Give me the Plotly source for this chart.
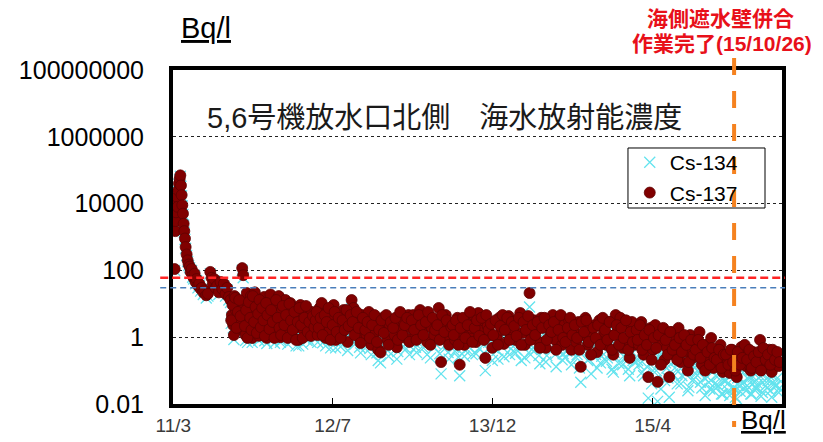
import plotly.graph_objects as go

# ---- sampling data (Bq/l) -------------------------------------------------
# spring / summer 2011
dates_2011a = [
    "2011-03-19", "2011-03-21", "2011-03-22", "2011-03-23", "2011-03-24", "2011-03-26",
    "2011-03-28", "2011-03-30", "2011-04-01", "2011-04-03", "2011-04-05", "2011-04-07",
    "2011-04-09", "2011-04-11", "2011-04-13", "2011-04-15", "2011-04-17", "2011-04-19",
    "2011-04-21", "2011-04-24", "2011-04-27", "2011-04-30",
    "2011-05-03", "2011-05-06", "2011-05-09", "2011-05-12", "2011-05-15", "2011-05-18",
    "2011-05-21", "2011-05-24", "2011-05-28", "2011-06-01", "2011-06-05", "2011-06-09",
    "2011-06-13", "2011-06-17", "2011-06-22", "2011-06-27", "2011-07-04", "2011-07-08",
    "2011-07-12", "2011-07-16", "2011-07-20", "2011-07-25", "2011-07-30", "2011-08-04",
    "2011-08-09", "2011-08-14", "2011-08-19", "2011-08-24", "2011-08-29",
]
cs134_2011a = [
    100, 1400, 2800, 5000, 8500, 15000, 7500, 23000, 38000, 52000, 66000, 33000,
    17000, 8500, 4700, 2300, 1400, 850, 460, 280, 185, 140,
    120, 80, 100, 62, 55, 72, 40, 50, 30, 36, 24, 27, 19, 22, 15, 17, 80, 52,
    35, 48, 26, 30, 19, 40, 24, 34, 17, 26, 13,
]
cs137_2011a = [
    110, 1500, 3000, 5500, 9000, 16000, 8000, 25000, 40000, 55000, 70000, 35000,
    18000, 9000, 5000, 2500, 1500, 900, 500, 300, 200, 150,
    130, 90, 110, 70, 60, 80, 45, 55, 35, 40, 28, 30, 22, 25, 18, 20, 90, 60,
    40, 55, 30, 35, 22, 45, 28, 40, 20, 30, 16,
]

# autumn 2011 - spring 2012
dates_2011b = [
    "2011-09-03", "2011-09-07", "2011-09-11", "2011-09-15", "2011-09-19", "2011-09-23", "2011-09-27",
    "2011-10-01", "2011-10-05", "2011-10-08", "2011-10-11", "2011-10-14", "2011-10-18", "2011-10-22",
    "2011-10-26", "2011-10-30",
    "2011-11-03", "2011-11-07", "2011-11-11", "2011-11-15", "2011-11-19", "2011-11-23", "2011-11-27",
    "2011-12-01", "2011-12-05", "2011-12-09", "2011-12-13", "2011-12-17", "2011-12-21", "2011-12-26",
    "2012-01-01", "2012-01-06", "2012-01-11", "2012-01-16", "2012-01-21", "2012-01-26", "2012-01-31",
    "2012-02-05", "2012-02-10", "2012-02-15", "2012-02-20", "2012-02-25",
    "2012-03-01", "2012-03-06", "2012-03-11", "2012-03-16", "2012-03-21", "2012-03-26", "2012-03-31",
    "2012-04-05", "2012-04-10", "2012-04-15", "2012-04-20", "2012-04-25", "2012-04-30",
    "2012-05-05", "2012-05-10",
]
cs134_2011b = [
    11, 3.9, 1.9, 14, 5.5, 1.3, 3.1,
    7.6, 2.3, 100, 60, 11, 0.8, 17, 3.7, 1.5,
    14, 0.7, 5.3, 18, 1.8, 7.4, 0.8,
    10, 3.0, 1.0, 13, 4.5, 0.65, 2.2,
    15, 3.5, 0.9, 7.0, 1.7, 13, 0.7,
    4.9, 2.4, 9.8, 1.2, 4.2,
    7.8, 0.8, 2.8, 5.5, 1.4, 0.55, 6.7,
    3.3, 1.2, 4.7, 0.8, 2.3, 1.3,
    4.0, 0.95,
]
cs137_2011b = [
    13, 4.6, 2.3, 17, 6.5, 1.65, 3.8,
    9.2, 2.85, 117, 72, 13, 1.16, 21, 4.6, 1.9,
    17, 0.95, 6.5, 22, 2.3, 9.2, 1.1,
    13, 3.8, 1.4, 16, 5.7, 0.95, 2.85,
    19, 4.6, 1.25, 9.2, 2.3, 17, 1.0,
    6.5, 3.2, 13, 1.65, 5.7,
    10.5, 1.1, 3.8, 7.5, 2.0, 0.83, 9.2,
    4.6, 1.65, 6.5, 1.15, 3.2, 1.9,
    5.7, 1.35,
]
# additional samples in the same period
dates_2011b_extra = [
    "2011-09-05", "2011-09-09", "2011-09-13", "2011-09-17", "2011-09-21", "2011-09-25", "2011-09-29",
    "2011-10-03", "2011-10-16", "2011-10-20", "2011-10-24", "2011-10-28",
    "2011-11-01", "2011-11-05", "2011-11-09", "2011-11-13", "2011-11-17", "2011-11-21", "2011-11-25",
    "2011-11-29",
    "2011-12-03", "2011-12-07", "2011-12-11", "2011-12-15", "2011-12-19", "2011-12-23", "2011-12-29",
    "2012-01-03", "2012-01-08", "2012-01-13", "2012-01-18", "2012-01-23", "2012-01-28",
    "2012-02-02", "2012-02-07", "2012-02-12", "2012-02-17", "2012-02-22", "2012-02-27",
    "2012-03-03", "2012-03-08", "2012-03-13", "2012-03-18", "2012-03-23", "2012-03-28",
    "2012-04-02", "2012-04-07", "2012-04-12", "2012-04-17", "2012-04-22", "2012-04-27",
    "2012-05-02", "2012-05-08", "2012-05-12",
]
cs134_2011b_extra = [
    2.6, 7.5, 0.85, 12, 1.5, 4.6, 10,
    3.4, 1.7, 5.0, 0.7, 8.8,
    2.9, 1.25, 13, 2.1, 6.0, 1.0, 3.7, 9.6,
    1.5, 5.5, 2.3, 0.78, 7.8, 3.3, 1.25,
    4.6, 2.0, 0.66, 9.2, 2.7, 1.3,
    0.8, 6.0, 1.6, 3.2, 0.62, 7.0,
    2.2, 1.1, 3.9, 0.55, 1.9, 5.0,
    1.5, 0.62, 2.5, 5.6, 0.92, 1.85,
    0.7, 2.8, 1.3,
]
cs137_2011b_extra = [
    3.2, 9.2, 1.16, 15, 1.9, 5.7, 13,
    4.3, 2.16, 6.5, 0.95, 11.3,
    3.8, 1.65, 17, 2.85, 8.0, 1.34, 5.0, 13,
    2.0, 7.5, 3.2, 1.09, 10.6, 4.6, 1.76,
    6.5, 2.85, 0.95, 13, 3.8, 1.9,
    1.16, 8.6, 2.3, 4.6, 0.95, 10,
    3.2, 1.65, 5.7, 0.83, 2.85, 7.5,
    2.3, 0.95, 3.8, 8.6, 1.43, 2.85,
    1.09, 4.3, 2.0,
]

# mid 2012 - mid 2013
dates_2012 = [
    "2012-05-16", "2012-05-22", "2012-05-28",
    "2012-06-03", "2012-06-09", "2012-06-15", "2012-06-21", "2012-06-27",
    "2012-07-03", "2012-07-09", "2012-07-15", "2012-07-21", "2012-07-27",
    "2012-08-02", "2012-08-08", "2012-08-14", "2012-08-20", "2012-08-26",
    "2012-09-01", "2012-09-07", "2012-09-13", "2012-09-19", "2012-09-25",
    "2012-10-02", "2012-10-09", "2012-10-16", "2012-10-23", "2012-10-30",
    "2012-11-06", "2012-11-13", "2012-11-20", "2012-11-27",
    "2012-12-04", "2012-12-11", "2012-12-18", "2012-12-25",
    "2013-01-08", "2013-01-15", "2013-01-22", "2013-01-29",
    "2013-02-05", "2013-02-12", "2013-02-19", "2013-02-26",
    "2013-03-05", "2013-03-12", "2013-03-19", "2013-03-26",
    "2013-04-02", "2013-04-09", "2013-04-16", "2013-04-23", "2013-04-30",
    "2013-05-07", "2013-05-14", "2013-05-21", "2013-05-28",
    "2013-06-04", "2013-06-11", "2013-06-18", "2013-06-25",
]
cs134_2012 = [
    1.9, 0.7, 4.5,
    6.4, 1.4, 0.55, 3.4, 1.0,
    2.2, 5.4, 0.48, 1.6, 2.6,
    0.75, 3.6, 1.1, 0.4, 2.1,
    7.0, 4.0, 0.9, 1.7, 0.5,
    2.4, 1.2, 0.6, 2.9, 0.3,
    1.4, 0.7, 0.2, 0.17,
    1.8, 0.9, 0.4, 1.1,
    0.55, 0.22, 1.5, 0.8,
    1.3, 0.45, 2.1, 0.85,
    2.1, 0.5, 1.0, 2.9,
    0.75, 1.4, 0.3, 1.7, 0.85,
    0.5, 1.2, 3.3, 0.08,
    1.0, 2.0, 0.35, 0.7,
]
cs137_2012 = [
    3.2, 1.16, 7.5,
    10.6, 2.3, 0.95, 5.7, 1.65,
    3.8, 9.2, 0.83, 2.85, 4.6,
    1.34, 6.5, 2.0, 0.72, 3.8,
    13, 7.5, 1.65, 3.2, 0.95,
    4.6, 2.3, 1.16, 5.7, 0.59,
    2.85, 1.43, 0.42, 0.35,
    3.8, 1.9, 0.83, 2.3,
    1.16, 0.5, 3.2, 1.65,
    2.85, 0.95, 4.6, 1.9,
    4.6, 1.16, 2.3, 6.5,
    1.65, 3.2, 0.72, 3.8, 1.9,
    1.16, 2.85, 7.5, 0.18,
    2.3, 4.6, 0.83, 1.65,
]
dates_2012_extra = [
    "2012-05-19", "2012-05-25", "2012-05-31",
    "2012-06-06", "2012-06-12", "2012-06-18", "2012-06-24", "2012-06-30",
    "2012-07-06", "2012-07-12", "2012-07-18", "2012-07-24", "2012-07-30",
    "2012-08-05", "2012-08-11", "2012-08-17", "2012-08-23", "2012-08-29",
    "2012-09-04", "2012-09-10", "2012-09-16", "2012-09-22", "2012-09-28",
    "2012-10-05", "2012-10-12", "2012-10-19", "2012-10-26",
    "2012-11-02", "2012-11-09", "2012-11-16", "2012-11-23", "2012-11-30",
    "2012-12-07", "2012-12-14", "2012-12-21", "2012-12-28",
    "2013-01-04", "2013-01-11", "2013-01-18", "2013-01-25",
    "2013-02-01", "2013-02-08", "2013-02-15", "2013-02-22",
    "2013-03-01", "2013-03-08", "2013-03-15", "2013-03-22", "2013-03-29",
    "2013-04-05", "2013-04-12", "2013-04-19", "2013-04-26",
    "2013-05-03", "2013-05-10", "2013-05-17", "2013-05-24", "2013-05-31",
    "2013-06-07", "2013-06-14", "2013-06-21", "2013-06-28",
]
cs134_2012_extra = [
    3.4, 1.1, 2.2,
    0.68, 2.7, 1.65, 4.4, 0.48,
    1.3, 3.2, 0.8, 2.1, 0.52,
    1.75, 0.9, 3.5, 1.15, 2.4,
    1.5, 0.6, 3.0, 1.0, 0.34,
    1.9, 0.82, 1.4, 0.46,
    1.1, 2.2, 0.34, 0.78, 1.5,
    0.62, 2.1, 0.27, 1.3,
    0.86, 1.7, 0.37, 2.5,
    0.5, 1.0, 1.65, 0.3,
    1.35, 0.7, 0.35, 1.9, 0.95,
    0.48, 1.15, 2.3, 0.24,
    1.5, 0.65, 0.9, 0.32, 1.8,
    0.55, 1.25, 0.22, 0.78,
]
cs137_2012_extra = [
    5.7, 1.9, 3.8,
    1.16, 4.6, 2.85, 7.5, 0.83,
    2.3, 5.7, 1.43, 3.8, 0.95,
    3.2, 1.65, 6.5, 2.16, 4.6,
    2.85, 1.16, 5.7, 1.9, 0.67,
    3.8, 1.65, 2.85, 0.95,
    2.3, 4.6, 0.72, 1.65, 3.2,
    1.34, 4.6, 0.59, 2.85,
    1.9, 3.8, 0.83, 5.7,
    1.16, 2.3, 3.8, 0.72,
    3.2, 1.65, 0.83, 4.6, 2.3,
    1.16, 2.85, 5.7, 0.59,
    3.8, 1.65, 2.3, 0.83, 4.6,
    1.43, 3.2, 0.59, 2.0,
]

# mid 2013 - end of 2014
dates_2013 = [
    "2013-07-02", "2013-07-09", "2013-07-16", "2013-07-23", "2013-07-30",
    "2013-08-06", "2013-08-13", "2013-08-20", "2013-08-27",
    "2013-09-03", "2013-09-10", "2013-09-17", "2013-09-24",
    "2013-10-01", "2013-10-08", "2013-10-15", "2013-10-22", "2013-10-29",
    "2013-11-05", "2013-11-12", "2013-11-19", "2013-11-26",
    "2013-12-03", "2013-12-10", "2013-12-17", "2013-12-24", "2013-12-31",
    "2014-01-07", "2014-01-14", "2014-01-21", "2014-01-28",
    "2014-02-04", "2014-02-11", "2014-02-18", "2014-02-25",
    "2014-03-04", "2014-03-11", "2014-03-18", "2014-03-25",
    "2014-04-01", "2014-04-08", "2014-04-15", "2014-04-22", "2014-04-29",
    "2014-05-06", "2014-05-13", "2014-05-20", "2014-05-27",
    "2014-06-03", "2014-06-10", "2014-06-17", "2014-06-24",
    "2014-07-01", "2014-07-08", "2014-07-15", "2014-07-22", "2014-07-29",
    "2014-08-05", "2014-08-12", "2014-08-19", "2014-08-26",
    "2014-09-02", "2014-09-09", "2014-09-16", "2014-09-23", "2014-09-30",
    "2014-10-07", "2014-10-14", "2014-10-21", "2014-10-28",
    "2014-11-04", "2014-11-11", "2014-11-18", "2014-11-25",
    "2014-12-02", "2014-12-09", "2014-12-16", "2014-12-23", "2014-12-30",
]
cs134_2013 = [
    1.1, 0.38, 1.8, 0.07, 0.65,
    0.27, 1.3, 0.5, 0.85,
    2.0, 0.32, 2.3, 0.72,
    1.4, 0.1, 0.95, 0.5, 0.2,
    1.2, 0.4, 1.6, 0.7,
    0.26, 0.95, 1.8, 0.45, 0.8,
    0.33, 1.3, 2.1, 0.55,
    0.24, 1.0, 8.0, 0.43,
    1.25, 0.62, 0.28, 1.45,
    0.75, 0.18, 1.05, 0.43, 1.7,
    0.3, 0.68, 1.35, 0.21,
    0.8, 0.38, 1.1, 0.15,
    0.56, 0.25, 0.95, 0.045, 0.4,
    1.25, 0.2, 0.62, 0.31,
    0.74, 0.12, 1.0, 0.27, 0.46,
    0.19, 0.9, 0.34, 0.09,
    1.4, 0.5, 1.15, 0.15,
    0.65, 0.25, 0.07, 0.85, 0.18,
]
cs137_2013 = [
    2.3, 0.83, 3.8, 0.15, 1.43,
    0.59, 2.85, 1.09, 1.9,
    4.6, 0.72, 5.3, 1.65,
    3.2, 0.24, 2.16, 1.16, 0.48,
    2.85, 0.95, 3.8, 1.65,
    0.63, 2.3, 4.3, 1.09, 1.9,
    0.83, 3.2, 5.3, 1.34,
    0.59, 2.5, 21, 1.09,
    3.2, 1.65, 0.72, 3.8,
    2.0, 0.48, 2.85, 1.16, 4.6,
    0.83, 1.9, 3.8, 0.59,
    2.3, 1.09, 3.2, 0.42,
    1.65, 0.72, 2.85, 0.13, 1.16,
    3.8, 0.59, 1.9, 0.95,
    2.3, 0.36, 3.2, 0.83, 1.43,
    0.59, 2.85, 1.09, 0.3,
    4.6, 1.65, 3.8, 0.48,
    2.16, 0.83, 0.24, 2.85, 0.59,
]
dates_2013_extra = [
    "2013-07-05", "2013-07-12", "2013-07-19", "2013-07-26",
    "2013-08-02", "2013-08-09", "2013-08-16", "2013-08-23", "2013-08-30",
    "2013-09-06", "2013-09-13", "2013-09-20", "2013-09-27",
    "2013-10-04", "2013-10-11", "2013-10-18", "2013-10-25",
    "2013-11-01", "2013-11-08", "2013-11-15", "2013-11-22", "2013-11-29",
    "2013-12-06", "2013-12-13", "2013-12-20", "2013-12-27",
    "2014-01-03", "2014-01-10", "2014-01-17", "2014-01-24", "2014-01-31",
    "2014-02-07", "2014-02-14", "2014-02-21", "2014-02-28",
    "2014-03-07", "2014-03-14", "2014-03-21", "2014-03-28",
    "2014-04-04", "2014-04-11", "2014-04-18", "2014-04-25",
    "2014-05-02", "2014-05-09", "2014-05-16", "2014-05-23", "2014-05-30",
    "2014-06-06", "2014-06-13", "2014-06-20", "2014-06-27",
    "2014-07-04", "2014-07-11", "2014-07-18", "2014-07-25",
    "2014-08-01", "2014-08-08", "2014-08-15", "2014-08-22", "2014-08-29",
    "2014-09-05", "2014-09-12", "2014-09-19", "2014-09-26",
    "2014-10-03", "2014-10-10", "2014-10-17", "2014-10-24", "2014-10-31",
    "2014-11-07", "2014-11-14", "2014-11-21", "2014-11-28",
    "2014-12-05", "2014-12-12", "2014-12-19", "2014-12-26",
]
cs134_2013_extra = [
    0.5, 1.5, 0.25, 0.85,
    1.7, 0.4, 1.0, 2.5, 0.3,
    0.8, 1.4, 0.45, 1.6,
    0.33, 2.0, 0.7, 1.05,
    0.48, 1.3, 0.22, 0.9, 1.9,
    0.65, 1.55, 0.3, 1.15,
    0.85, 0.42, 1.5, 0.2, 1.1,
    0.62, 1.65, 0.3, 0.85,
    0.42, 1.05, 0.16, 0.7,
    1.35, 0.28, 0.8, 0.5,
    1.0, 0.13, 0.56, 1.6, 0.32,
    0.24, 0.64, 1.3, 0.38,
    0.75, 0.3, 0.12, 0.95,
    0.46, 1.05, 0.22, 0.08, 0.6,
    0.3, 0.72, 0.17, 1.2,
    0.5, 0.24, 0.88, 0.11, 0.35,
    0.68, 0.16, 0.55, 0.27,
    0.92, 0.11, 0.4, 0.2,
]
cs137_2013_extra = [
    1.16, 3.2, 0.59, 1.9,
    3.8, 0.95, 2.3, 5.7, 0.72,
    1.9, 3.2, 1.09, 3.8,
    0.83, 4.6, 1.65, 2.5,
    1.16, 3.2, 0.59, 2.16, 4.6,
    1.65, 3.8, 0.83, 2.85,
    2.16, 1.09, 3.8, 0.59, 2.85,
    1.65, 4.3, 0.83, 2.3,
    1.16, 2.85, 0.48, 1.9,
    3.8, 0.83, 2.3, 1.43,
    2.85, 0.42, 1.65, 4.6, 0.95,
    0.72, 1.9, 3.8, 1.16,
    2.3, 0.95, 0.42, 2.85,
    1.43, 3.2, 0.72, 0.3, 1.9,
    0.95, 2.3, 0.59, 3.8,
    1.65, 0.83, 2.85, 0.42, 1.16,
    2.3, 0.59, 1.9, 0.95,
    3.2, 0.42, 1.43, 0.72,
]

# 2015 - early 2016
dates_2015 = [
    "2015-01-06", "2015-01-13", "2015-01-20", "2015-01-27",
    "2015-02-03", "2015-02-10", "2015-02-17", "2015-02-24",
    "2015-03-03", "2015-03-10", "2015-03-17", "2015-03-24", "2015-03-31",
    "2015-04-07", "2015-04-14", "2015-04-21", "2015-04-28",
    "2015-05-05", "2015-05-12", "2015-05-19", "2015-05-26",
    "2015-06-02", "2015-06-09", "2015-06-16", "2015-06-23", "2015-06-30",
    "2015-07-07", "2015-07-14", "2015-07-21", "2015-07-28",
    "2015-08-04", "2015-08-11", "2015-08-18", "2015-08-25",
    "2015-09-01", "2015-09-08", "2015-09-15", "2015-09-22", "2015-09-29",
    "2015-10-06", "2015-10-13", "2015-10-20", "2015-10-27",
    "2015-11-03", "2015-11-10", "2015-11-17", "2015-11-24",
    "2015-12-01", "2015-12-08", "2015-12-15", "2015-12-22", "2015-12-29",
    "2016-01-05", "2016-01-12", "2016-01-19", "2016-01-26",
    "2016-02-02", "2016-02-09", "2016-02-16", "2016-02-23",
    "2016-03-01", "2016-03-08",
]
cs134_2015 = [
    0.45, 0.15, 0.8, 0.07,
    0.25, 0.015, 0.5, 0.1,
    0.6, 0.012, 0.18, 0.3, 0.05,
    0.12, 0.016, 0.35, 0.07,
    0.2, 0.45, 0.04, 0.14,
    0.08, 0.025, 0.27, 0.05, 0.16,
    0.1, 0.3, 0.03, 0.06,
    0.12, 0.045, 0.2, 0.025,
    0.07, 0.035, 0.12, 0.02, 0.05,
    0.04, 0.018, 0.08, 0.03,
    0.014, 0.035, 0.1, 0.045,
    0.025, 0.055, 0.02, 0.065, 0.03,
    0.04, 0.15, 0.022, 0.05,
    0.03, 0.07, 0.016, 0.04,
    0.035, 0.022,
]
cs137_2015 = [
    1.65, 0.59, 2.85, 0.3,
    0.95, 0.064, 1.9, 0.42,
    2.3, 0.046, 0.72, 1.16, 0.21,
    0.48, 0.064, 1.43, 0.3,
    0.83, 1.9, 0.18, 0.59,
    0.36, 0.1, 1.16, 0.24, 0.72,
    0.48, 1.43, 0.15, 0.3,
    0.59, 0.21, 0.95, 0.12,
    0.36, 0.18, 0.59, 0.091, 0.27,
    0.21, 0.085, 0.42, 0.15,
    0.064, 0.18, 0.51, 0.24,
    0.137, 0.3, 0.1, 0.36, 0.18,
    0.24, 0.83, 0.12, 0.3,
    0.18, 0.42, 0.091, 0.255,
    0.21, 0.137,
]
dates_2015_extra = [
    "2015-01-09", "2015-01-16", "2015-01-23", "2015-01-30",
    "2015-02-06", "2015-02-13", "2015-02-20", "2015-02-27",
    "2015-03-06", "2015-03-13", "2015-03-20", "2015-03-27",
    "2015-04-03", "2015-04-10", "2015-04-17", "2015-04-24",
    "2015-05-01", "2015-05-08", "2015-05-15", "2015-05-22", "2015-05-29",
    "2015-06-05", "2015-06-12", "2015-06-19", "2015-06-26",
    "2015-07-03", "2015-07-10", "2015-07-17", "2015-07-24", "2015-07-31",
    "2015-08-07", "2015-08-14", "2015-08-21", "2015-08-28",
    "2015-09-04", "2015-09-11", "2015-09-18", "2015-09-25",
    "2015-10-02", "2015-10-09", "2015-10-16", "2015-10-23", "2015-10-30",
    "2015-11-06", "2015-11-13", "2015-11-20", "2015-11-27",
    "2015-12-04", "2015-12-11", "2015-12-18", "2015-12-25",
    "2016-01-01", "2016-01-08", "2016-01-15", "2016-01-22", "2016-01-29",
    "2016-02-05", "2016-02-12", "2016-02-19", "2016-02-26",
    "2016-03-04", "2016-03-11",
]
cs134_2015_extra = [
    0.2, 0.55, 0.09, 0.28,
    0.13, 0.38, 0.04, 0.2,
    0.1, 0.26, 0.028, 0.42,
    0.17, 0.06, 0.3, 0.08,
    0.12, 0.04, 0.19, 0.07, 0.24,
    0.11, 0.032, 0.16, 0.055,
    0.08, 0.16, 0.045, 0.11, 0.018,
    0.065, 0.028, 0.09, 0.04,
    0.038, 0.075, 0.02, 0.05,
    0.05, 0.025, 0.07, 0.03, 0.016,
    0.06, 0.024, 0.04, 0.1,
    0.035, 0.07, 0.02, 0.045,
    0.03, 0.06, 0.017, 0.08, 0.035,
    0.05, 0.025, 0.07, 0.035,
    0.06, 0.03,
]
cs137_2015_extra = [
    0.83, 2.3, 0.42, 1.16,
    0.59, 1.65, 0.21, 0.95,
    0.475, 1.16, 0.15, 1.9,
    0.83, 0.3, 1.43, 0.42,
    0.59, 0.21, 0.95, 0.36, 1.16,
    0.59, 0.18, 0.83, 0.3,
    0.42, 0.83, 0.24, 0.59, 0.1,
    0.36, 0.15, 0.475, 0.24,
    0.21, 0.42, 0.12, 0.3,
    0.3, 0.15, 0.42, 0.18, 0.1,
    0.36, 0.15, 0.24, 0.59,
    0.21, 0.42, 0.12, 0.27,
    0.18, 0.36, 0.1, 0.475, 0.21,
    0.3, 0.15, 0.42, 0.21,
    0.36, 0.18,
]

sample_dates = (dates_2011a + dates_2011b + dates_2011b_extra + dates_2012 + dates_2012_extra
                + dates_2013 + dates_2013_extra + dates_2015 + dates_2015_extra)
cs134 = (cs134_2011a + cs134_2011b + cs134_2011b_extra + cs134_2012 + cs134_2012_extra
         + cs134_2013 + cs134_2013_extra + cs134_2015 + cs134_2015_extra)
cs137 = (cs137_2011a + cs137_2011b + cs137_2011b_extra + cs137_2012 + cs137_2012_extra
         + cs137_2013 + cs137_2013_extra + cs137_2015 + cs137_2015_extra)
assert len(sample_dates) == len(cs134) == len(cs137)

# reference levels (Bq/l) and the date the sea-side wall work finished
level_red = 60
level_blue = 30
wall_done = "2015-10-26"

x_range = ["2011-03-14", "2016-03-18"]
x_tickvals = ["2011-03-15", "2012-07-06", "2013-10-30", "2015-02-23"]
x_ticktext = ["11/3", "12/7", "13/12", "15/4"]
y_tickvals = [0.01, 1, 100, 10000, 1000000, 100000000]
y_ticktext = ["0.01", "1", "100", "10000", "1000000", "100000000"]

LATIN = "Liberation Sans, Arial, sans-serif"
MIXED = "Liberation Sans, Noto Sans CJK JP, sans-serif"

# ---- figure ---------------------------------------------------------------
fig = go.Figure()
fig.add_trace(go.Scatter(
    x=sample_dates, y=cs134, mode="markers", name="Cs-134",
    marker=dict(symbol="x-thin", size=11, color="#63e3ee",
                line=dict(color="#63e3ee", width=1.3)),
))
fig.add_trace(go.Scatter(
    x=sample_dates, y=cs137, mode="markers", name="Cs-137",
    marker=dict(symbol="circle", size=11, color="#800000",
                line=dict(color="#5e0000", width=0.8)),
))

shapes = [
    # legend frame
    dict(type="rect", xref="paper", yref="paper", x0=0.7471, x1=0.9721, y0=0.5868, y1=0.7665,
         line=dict(color="black", width=1), fillcolor="white", layer="between"),
    # reference levels
    dict(type="line", xref="paper", yref="y", x0=-0.021, x1=1.005, y0=level_red, y1=level_red,
         line=dict(color="#ff2424", width=2.5, dash="8px,4px"), layer="above"),
    dict(type="line", xref="paper", yref="y", x0=-0.021, x1=1.005, y0=level_blue, y1=level_blue,
         line=dict(color="#4a7ebb", width=1.5, dash="6px,4px"), layer="above"),
    # wall completion marker
    dict(type="line", xref="x", yref="paper", x0=wall_done, x1=wall_done, y0=1.036, y1=-0.069,
         line=dict(color="#f5821f", width=4, dash="17px,16px"), layer="above"),
]

annotations = [
    dict(text="5,6号機放水口北側　海水放射能濃度", xref="paper", yref="paper",
         x=0.0525, y=0.856, xanchor="left", yanchor="middle", showarrow=False,
         font=dict(family=MIXED, size=29, color="#1a1a1a")),
    dict(text="<u>Bq/l</u>", xref="paper", yref="paper", x=0.054, y=1.126,
         xanchor="center", yanchor="middle", showarrow=False,
         font=dict(family=LATIN, size=29, color="black")),
    dict(text="<u>Bq/l</u>", xref="paper", yref="paper", x=0.9704, y=-0.048,
         xanchor="center", yanchor="middle", showarrow=False,
         font=dict(family=LATIN, size=26, color="black")),
    dict(text="<b>海側遮水壁併合</b>", xref="paper", yref="paper", x=0.8998, y=1.153,
         xanchor="center", yanchor="middle", showarrow=False,
         font=dict(family=MIXED, size=21, color="#e8101a")),
    dict(text="<b>作業完了(15/10/26)</b>", xref="paper", yref="paper", x=0.9015, y=1.078,
         xanchor="center", yanchor="middle", showarrow=False,
         font=dict(family=MIXED, size=21, color="#e8101a")),
]

fig.update_layout(
    width=823, height=442,
    margin=dict(l=173, r=41, t=70, b=38, autoexpand=False),
    paper_bgcolor="white", plot_bgcolor="white",
    showlegend=True,
    legend=dict(x=0.750, y=0.784, xanchor="left", yanchor="top",
                bgcolor="rgba(0,0,0,0)", borderwidth=0,
                font=dict(family=LATIN, size=21, color="black")),
    shapes=shapes,
    annotations=annotations,
    xaxis=dict(
        type="date", range=x_range, tickvals=x_tickvals, ticktext=x_ticktext,
        automargin=False, showgrid=False, zeroline=False,
        showline=True, linecolor="black", linewidth=4, mirror=True,
        ticks="inside", ticklen=6, tickwidth=1, tickcolor="black",
        ticklabelstandoff=1,
        tickfont=dict(family=LATIN, size=19, color="#3a3a3a"),
    ),
    yaxis=dict(
        type="log", range=[-2, 8], tickvals=y_tickvals, ticktext=y_ticktext,
        automargin=False,
        showgrid=True, gridcolor="#222222", gridwidth=1, griddash="dot",
        zeroline=False,
        showline=True, linecolor="black", linewidth=4, mirror=True,
        ticks="", ticklabelstandoff=20,
        tickfont=dict(family=LATIN, size=25, color="black"),
    ),
)

fig.write_html("out.html", config={"displayModeBar": False})
